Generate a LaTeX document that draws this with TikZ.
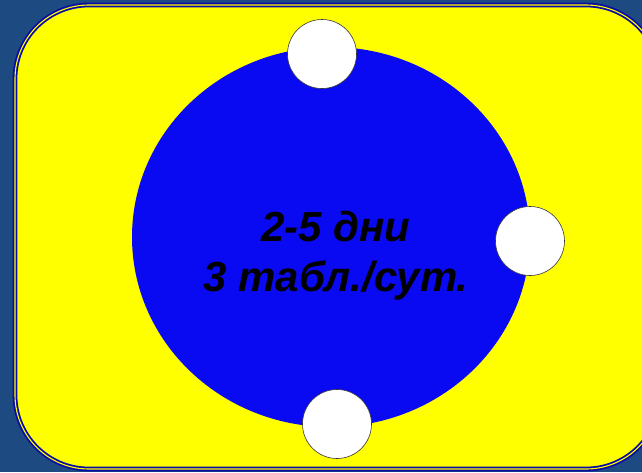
\documentclass[tikz,border=0pt]{standalone}
\usepackage{fontspec}
\setmainfont{Liberation Sans}
\usetikzlibrary{shapes.geometric}

\definecolor{slideback}{HTML}{1D4A80}
\definecolor{panelyel}{HTML}{FFFF00}
\definecolor{edgeblue}{HTML}{0A0AA8}
\definecolor{discblue}{HTML}{0A0AF2}

\begin{document}
\begin{tikzpicture}[x=1pt, y=-1pt,
    panel/.style={fill=panelyel, draw=edgeblue, line width=1.8pt,
        double=panelyel, double distance=1.1pt, rounded corners=74pt},
    disc/.style={ellipse, fill=discblue, inner sep=0pt,
        minimum width=398pt, minimum height=380pt},
    pill/.style={circle, fill=white, draw=black!80, line width=0.6pt,
        inner sep=0pt, minimum size=69pt},
    dosetext/.style={font=\fontsize{42}{50}\selectfont\bfseries\itshape,
        align=center, text=black},
]

% === Background ===
\fill[slideback] (0,0) rectangle (642,472);
\useasboundingbox (0,0) rectangle (642,472);

% === Yellow panel ===
\draw[panel] (15,5) rectangle (660,469);

% === Blue disc ===
\node[disc] (disc) at (331,237) {};

% === White pills round the disc ===
\node[pill] (pilltop) at (322,54) {};
\node[pill] (pillright) at (530,241) {};
\node[pill] (pillbottom) at (337,424) {};

% === Dose text ===
\node[dosetext] (dose) at (336,256) {2-5 дни\\3 табл./сут.};

\end{tikzpicture}
\end{document}
